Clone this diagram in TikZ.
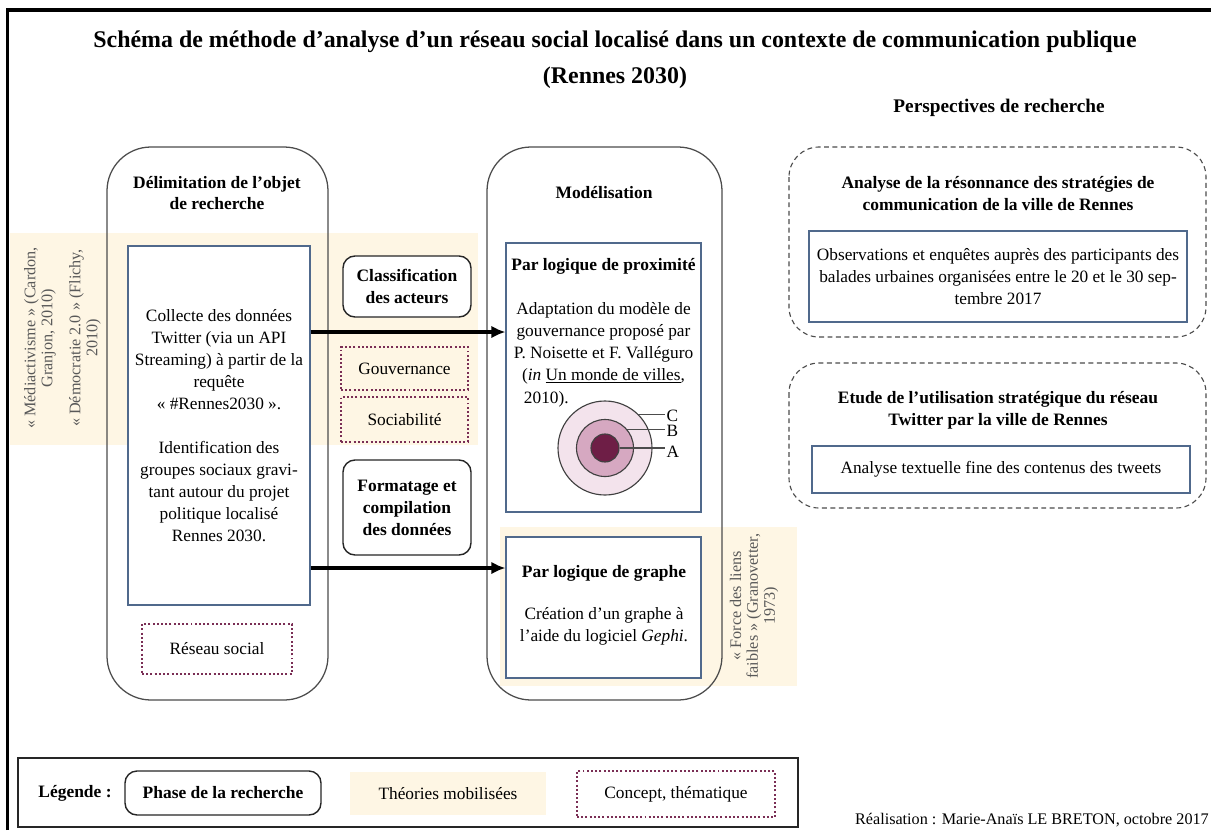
\documentclass[tikz,border=0pt]{standalone}
\usepackage{fontspec}
\setmainfont{Liberation Serif}
\usepackage{tikz}
\usetikzlibrary{arrows.meta}
\definecolor{theorie}{RGB}{254,246,228}
\definecolor{prune}{RGB}{122,46,85}
\definecolor{cadre}{RGB}{80,105,140}
\definecolor{anneauC}{RGB}{243,227,236}
\definecolor{anneauB}{RGB}{214,168,193}
\definecolor{anneauA}{RGB}{110,30,70}
\newcommand{\pxl}{0.025cm}

\begin{document}
\begin{tikzpicture}[x=0.025cm, y=-0.025cm,
  txt/.style={font=\fontsize{12.3}{15.6}\selectfont, align=center},
  titre/.style={font=\fontsize{12.4}{15.6}\selectfont\bfseries, align=center},
  theo/.style={rotate=90, align=center, text=black!65, font=\fontsize{11.5}{12}\selectfont},
  panel/.style={draw=black!70, line width=0.9pt, rounded corners=1.1cm},
  persp/.style={draw=black!70, line width=0.8pt, dash pattern=on 3.5pt off 2.5pt, rounded corners=0.75cm},
  phase/.style={draw=black!85, line width=1pt, rounded corners=0.3cm, fill=white, titre},
  boite/.style={draw=cadre, line width=0.8pt, fill=white, txt},
  concept/.style={draw=prune, line width=1.4pt, dash pattern=on 1.4pt off 1.6pt, txt},
  fil/.style={draw=black!70, line width=1pt},
  fleche/.style={line width=2.4pt, -{Latex[length=10pt,width=9pt]}}]
\useasboundingbox (0,0) rectangle (1211,830);
\draw[line width=2.2pt] (7.5,830) |- (1211,10);

\node[font=\fontsize{17}{25.6}\selectfont\bfseries, align=center] (titre) at (615,60)
  {Schéma de méthode d'analyse d'un réseau social localisé dans un contexte de communication publique\\(Rennes 2030)};

\fill[theorie] (10,233) rectangle (478,445);
\fill[theorie] (500,527) rectangle (797,686);
\draw[panel] (107,147) rectangle (328,700);
\draw[panel] (487,147) rectangle (722,700);
\draw[persp] (789,147) rectangle (1206,337);
\draw[persp] (789,363) rectangle (1206,508);

\node[theo] (mediact) at (40,338) {« Médiactivisme » (Cardon,\\Granjon, 2010)};
\node[theo] (democ) at (85,338) {« Démocratie 2.0 » (Flichy,\\2010)};
\node[theo] (granov) at (754,606) {« Force des liens\\faibles » (Granovetter,\\1973)};

\node[titre] (delimtitre) at (217,193) {Délimitation de l'objet\\de recherche};
\node[boite, minimum width=182*\pxl, minimum height=359*\pxl] (collecte) at (219,425.5)
  {Collecte des données\\Twitter (via un API\\Streaming) à partir de la\\requête\\« \#Rennes2030 ».\\[15.6pt]
   Identification des\\groupes sociaux gravi-\\tant autour du projet\\politique localisé\\Rennes 2030.};
\node[concept, minimum width=150*\pxl, minimum height=50*\pxl] (reseau) at (217,649) {Réseau social};

\node[phase, minimum width=128*\pxl, minimum height=61*\pxl] (classif) at (407,286.5) {Classification\\des acteurs};
\node[concept, minimum width=127*\pxl, minimum height=43*\pxl] (gouv) at (404.5,368.5) {Gouvernance};
\node[concept, minimum width=127*\pxl, minimum height=45*\pxl] (socia) at (404.5,419.5) {Sociabilité};
\node[phase, minimum width=128*\pxl, minimum height=95*\pxl] (formatage) at (407,507.5) {Formatage et\\compilation\\des données};

\node[titre] (modeltitre) at (604,193) {Modélisation};
\node[boite, minimum width=195*\pxl, minimum height=269*\pxl] (prox) at (603.5,377.5) {};
\node[titre] (proxtitre) at (603.5,266) {Par logique de proximité};
\node[txt] (proxtxt) at (603.5,343.5) {Adaptation du modèle de\\gouvernance proposé par\\P. Noisette et F. Valléguro\\(\textit{in} \underline{Un monde de villes},};
\node[txt, anchor=west] (proxdate) at (519,399) {2010).};
\node[circle, draw=black!75, line width=0.8pt, fill=anneauC, minimum size=94*\pxl] (cerC) at (605,448) {};
\node[circle, draw=black!75, line width=0.8pt, fill=anneauB, minimum size=57*\pxl] (cerB) at (605,448) {};
\node[circle, draw=black!75, line width=0.8pt, fill=anneauA, minimum size=28*\pxl] (cerA) at (605,448) {};
\node[txt, anchor=west, inner sep=1pt] (labC) at (665,416) {C};
\node[txt, anchor=west, inner sep=1pt] (labB) at (665,431) {B};
\node[txt, anchor=west, inner sep=1pt] (labA) at (665,452) {A};
\draw[fil] (cerC.45) -- (cerC.45 -| labC.west);
\draw[fil] (cerB.40) -- (cerB.40 -| labB.west);
\draw[fil] (cerA.east) -- (cerA.east -| labA.west);

\node[boite, minimum width=195*\pxl, minimum height=141*\pxl] (graphe) at (603.5,607.5) {};
\node[titre] (graphetitre) at (604,573) {Par logique de graphe};
\node[txt] (graphetxt) at (604,626) {Création d'un graphe à\\l'aide du logiciel \textit{Gephi}.};

\coordinate (fy1) at (0,332);
\coordinate (fy2) at (0,568);
\draw[fleche] (collecte.east |- fy1) -- (prox.west |- fy1);
\draw[fleche] (collecte.east |- fy2) -- (graphe.west |- fy2);

\node[font=\fontsize{13.7}{16}\selectfont\bfseries] (persptitre) at (999,108) {Perspectives de recherche};
\node[titre] (persp1titre) at (998,194) {Analyse de la résonnance des stratégies de\\communication de la ville de Rennes};
\node[boite, minimum width=378*\pxl, minimum height=91*\pxl] (obs) at (998,276.5)
  {Observations et enquêtes auprès des participants des\\balades urbaines organisées entre le 20 et le 30 sep-\\tembre 2017};
\node[titre] (persp2titre) at (998,410) {Etude de l'utilisation stratégique du réseau\\Twitter par la ville de Rennes};
\node[boite, minimum width=378*\pxl, minimum height=47*\pxl] (tweets) at (1001,469.5) {Analyse textuelle fine des contenus des tweets};

\node[draw=black!85, line width=0.9pt, minimum width=780*\pxl, minimum height=69*\pxl] (legende) at (408,792.5) {};
\node[titre] (legtitre) at (75,793) {Légende :};
\node[phase, minimum width=196*\pxl, minimum height=44*\pxl] (legphase) at (223,793) {Phase de la recherche};
\node[txt, fill=theorie, minimum width=196*\pxl, minimum height=43*\pxl] (legtheo) at (448,793.5) {Théories mobilisées};
\node[concept, minimum width=198*\pxl, minimum height=46*\pxl] (legconcept) at (676,794) {Concept, thématique};
\node[font=\fontsize{11.5}{14}\selectfont, anchor=east, inner sep=0pt] (realis) at (1209,820) {Réalisation : Marie-Anaïs LE BRETON, octobre 2017};
\end{tikzpicture}
\end{document}
